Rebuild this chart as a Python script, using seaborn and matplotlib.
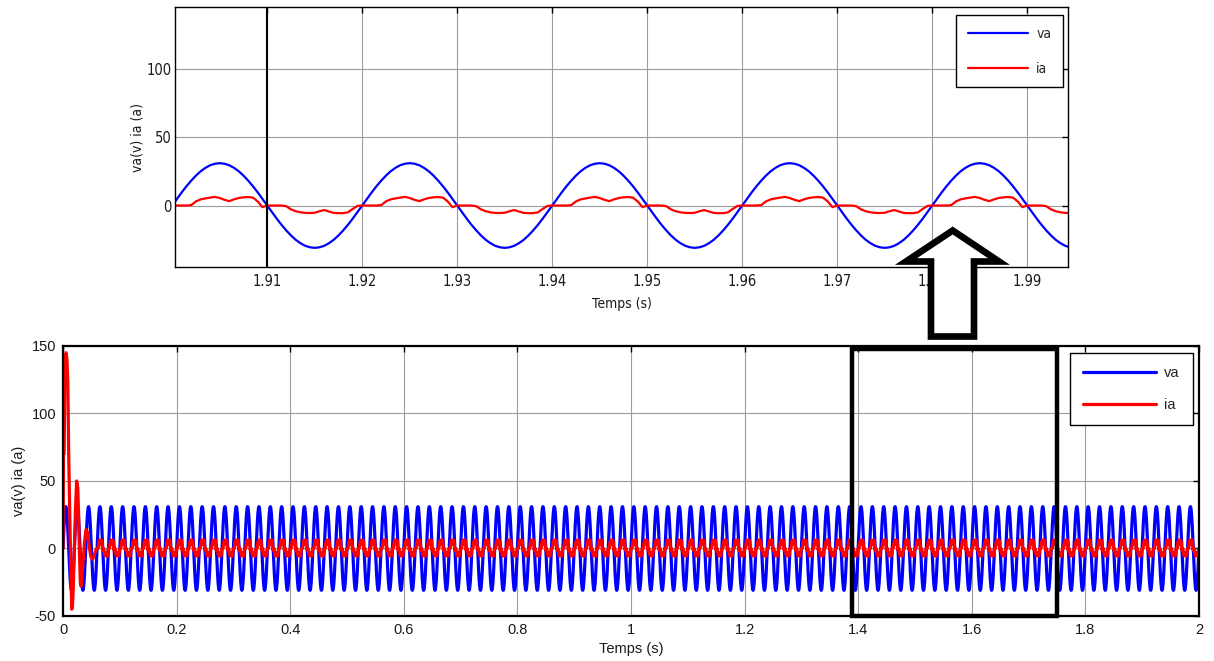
import numpy as np
import pandas as pd
import matplotlib
matplotlib.use("Agg")
import matplotlib.pyplot as plt
from matplotlib.patches import Rectangle, Polygon
from matplotlib import font_manager
import seaborn as sns

# ---- signal data (0.5 ms sampling, 50 Hz grid) ----
STEP = 0.0005
N_CYCLES = 100

# phase voltage over one 20 ms period, starting at the rising zero crossing
va_cycle = [0.0, 4.8, 9.6, 14.1, 18.2, 21.9, 25.1, 27.6, 29.5, 30.6,
            31.0, 30.6, 29.5, 27.6, 25.1, 21.9, 18.2, 14.1, 9.6, 4.8,
            0.0, -4.8, -9.6, -14.1, -18.2, -21.9, -25.1, -27.6, -29.5, -30.6,
            -31.0, -30.6, -29.5, -27.6, -25.1, -21.9, -18.2, -14.1, -9.6, -4.8]

# steady-state line current over the same period
ia_cycle = [0.0, 0.0, 0.0, 0.0, 0.3, 3.0, 4.5, 5.2, 5.8, 6.3,
            5.5, 4.2, 3.2, 4.5, 5.5, 6.0, 6.2, 5.8, 3.0, -1.2,
            0.0, 0.0, 0.0, 0.0, -0.5, -2.8, -4.2, -5.0, -5.4, -5.5,
            -5.3, -4.2, -3.3, -4.4, -5.4, -5.6, -5.6, -5.0, -2.5, -0.3]

# start-up inrush of the current before it settles
transient_t = [0.000, 0.0008, 0.002, 0.003, 0.0045, 0.0055, 0.007, 0.0085,
               0.010, 0.0115, 0.013, 0.0145, 0.0155, 0.0165, 0.018, 0.020,
               0.022, 0.024, 0.026, 0.0275, 0.029, 0.0305, 0.032, 0.035,
               0.038, 0.0405, 0.043, 0.046, 0.049, 0.052, 0.055, 0.058]
transient_ia = [0.0, 70.0, 70.0, 122.0, 143.0, 145.0, 140.0, 122.0,
                70.0, 35.0, 0.0, -30.0, -45.0, -44.0, -30.0, 0.0,
                30.0, 50.0, 45.0, 25.0, -5.0, -25.0, -28.0, -12.0,
                5.0, 14.0, 12.0, 2.0, -6.0, -8.0, -5.0, -1.0]
SETTLE = 0.060

x_ticks_full = [0, 0.2, 0.4, 0.6, 0.8, 1.0, 1.2, 1.4, 1.6, 1.8, 2.0]
x_labels_full = ["0", "0.2", "0.4", "0.6", "0.8", "1", "1.2", "1.4", "1.6", "1.8", "2"]
y_ticks_full = [-50, 0, 50, 100, 150]

x_ticks_zoom = [1.91, 1.92, 1.93, 1.94, 1.95, 1.96, 1.97, 1.98, 1.99]
y_ticks_zoom = [0, 50, 100]

# ---- build the long-form table ----
t = np.arange(N_CYCLES * len(va_cycle)) * STEP
va = np.tile(va_cycle, N_CYCLES)
ia_ss = np.tile(ia_cycle, N_CYCLES)
keep = t >= SETTLE
t_ia = np.concatenate([transient_t, t[keep]])
ia = np.concatenate([transient_ia, ia_ss[keep]])

df = pd.concat([
    pd.DataFrame({"t": t, "v": va, "signal": "va"}),
    pd.DataFrame({"t": t_ia, "v": ia, "signal": "ia"}),
], ignore_index=True)

palette = {"va": "#0000ff", "ia": "#ff0000"}

sns.set_theme(style="white")
plt.rcParams["font.family"] = ["Liberation Sans", "DejaVu Sans"]
plt.rcParams["axes.unicode_minus"] = False
plt.rcParams["xtick.direction"] = "in"
plt.rcParams["ytick.direction"] = "in"

# the inset uses a condensed face when one is installed
_narrow = None
for f in font_manager.fontManager.ttflist:
    nm = f.name.lower()
    if "narrow" in nm or "condensed" in nm:
        _narrow = font_manager.FontProperties(fname=f.fname)
        break
    if f.stretch in ("condensed", "semi-condensed", 600, 700) and "sans" in nm \
            and f.style == "normal" and f.weight in ("normal", 400):
        _narrow = font_manager.FontProperties(fname=f.fname)
        break
INSET_SIZE = 10.5 if _narrow is not None else 9.5


def inset_font(size):
    if _narrow is not None:
        fp = _narrow.copy()
        fp.set_size(size)
        return fp
    return font_manager.FontProperties(family=["Liberation Sans", "DejaVu Sans"],
                                       size=size - 1.0)


fig = plt.figure(figsize=(12.14, 6.61), dpi=100)
fig.patch.set_facecolor("white")

ax_top = fig.add_axes([0.1442, 0.5961, 0.7356, 0.3926])
ax_bot = fig.add_axes([0.0519, 0.0681, 0.9357, 0.4085])

GRID = "#9c9c9c"
INK = "#1a1a1a"


def style_axes(ax, spine_lw, tick_fs, xpad, ypad):
    for s in ax.spines.values():
        s.set_color("black")
        s.set_linewidth(spine_lw)
    ax.grid(True, color=GRID, linewidth=0.8, linestyle="-")
    ax.set_axisbelow(True)
    ax.tick_params(axis="both", which="both", direction="in", length=4,
                   width=1, colors="black", top=True, right=True,
                   labelsize=tick_fs, labelcolor=INK)
    ax.tick_params(axis="x", pad=xpad)
    ax.tick_params(axis="y", pad=ypad)


# ---- zoomed view ----
sns.lineplot(data=df, x="t", y="v", hue="signal", hue_order=["va", "ia"],
             palette=palette, estimator=None, linewidth=1.6, legend=False,
             ax=ax_top)
ax_top.set_xlim(1.9003, 1.9943)
ax_top.set_ylim(-45, 145)
ax_top.set_xticks(x_ticks_zoom)
ax_top.set_xticklabels([f"{v:.2f}" for v in x_ticks_zoom])
ax_top.set_yticks(y_ticks_zoom)
style_axes(ax_top, 1.0, INSET_SIZE, 5, 2.5)
for lab in ax_top.get_xticklabels() + ax_top.get_yticklabels():
    lab.set_fontproperties(inset_font(10.5))
ax_top.axvline(1.91, color="black", linewidth=1.5, zorder=3)
ax_top.set_xlabel("Temps (s)", color=INK, labelpad=6,
                  fontproperties=inset_font(10))
ax_top.set_ylabel("va(v) ia (a)", color=INK, labelpad=1.5,
                  fontproperties=inset_font(10))
leg = ax_top.legend(ax_top.lines[:2], ["va", "ia"], loc="upper right",
                    bbox_to_anchor=(0.9944, 0.971), borderaxespad=0,
                    prop=inset_font(10),
                    handlelength=4.3, labelspacing=1.5,
                    borderpad=0.85, handletextpad=0.6, fancybox=False,
                    framealpha=1, edgecolor="black")
leg.get_frame().set_linewidth(1.0)

# ---- full simulation ----
sns.lineplot(data=df, x="t", y="v", hue="signal", hue_order=["va", "ia"],
             palette=palette, estimator=None, linewidth=2.3, legend=False,
             ax=ax_bot)
ax_bot.set_xlim(0, 2)
ax_bot.set_ylim(-50, 150)
ax_bot.set_xticks(x_ticks_full)
ax_bot.set_xticklabels(x_labels_full)
ax_bot.set_yticks(y_ticks_full)
style_axes(ax_bot, 1.6, 10.5, 5, 5)
ax_bot.set_xlabel("Temps (s)", fontsize=10.5, color=INK, labelpad=4)
ax_bot.set_ylabel("va(v) ia (a)", fontsize=10.5, color=INK, labelpad=4)
leg2 = ax_bot.legend(ax_bot.lines[:2], ["va", "ia"], loc="upper right",
                     bbox_to_anchor=(0.9947, 0.974), borderaxespad=0,
                     fontsize=10.5, handlelength=5.0, labelspacing=1.2,
                     borderpad=0.9, handletextpad=0.6, fancybox=False,
                     framealpha=1, edgecolor="black")
leg2.get_frame().set_linewidth(1.0)

# highlighted window on the full trace
ax_bot.add_patch(Rectangle((1.39, -50), 0.36, 198, fill=False,
                           edgecolor="black", linewidth=3.2, zorder=6,
                           clip_on=False))

# hollow arrow pointing from the window up to the zoomed view
W, H = 1214.0, 661.0
arrow_px = [(952.7, 230.5), (999, 261.5), (974, 261.5), (974, 336.5),
            (931, 336.5), (931, 261.5), (906, 261.5)]
arrow = Polygon([(x / W, 1 - y / H) for x, y in arrow_px], closed=True,
                facecolor="white", edgecolor="black", linewidth=4.8,
                joinstyle="miter", transform=fig.transFigure, zorder=10)
fig.patches.append(arrow)

fig.savefig("out.png", dpi=100, facecolor="white")
